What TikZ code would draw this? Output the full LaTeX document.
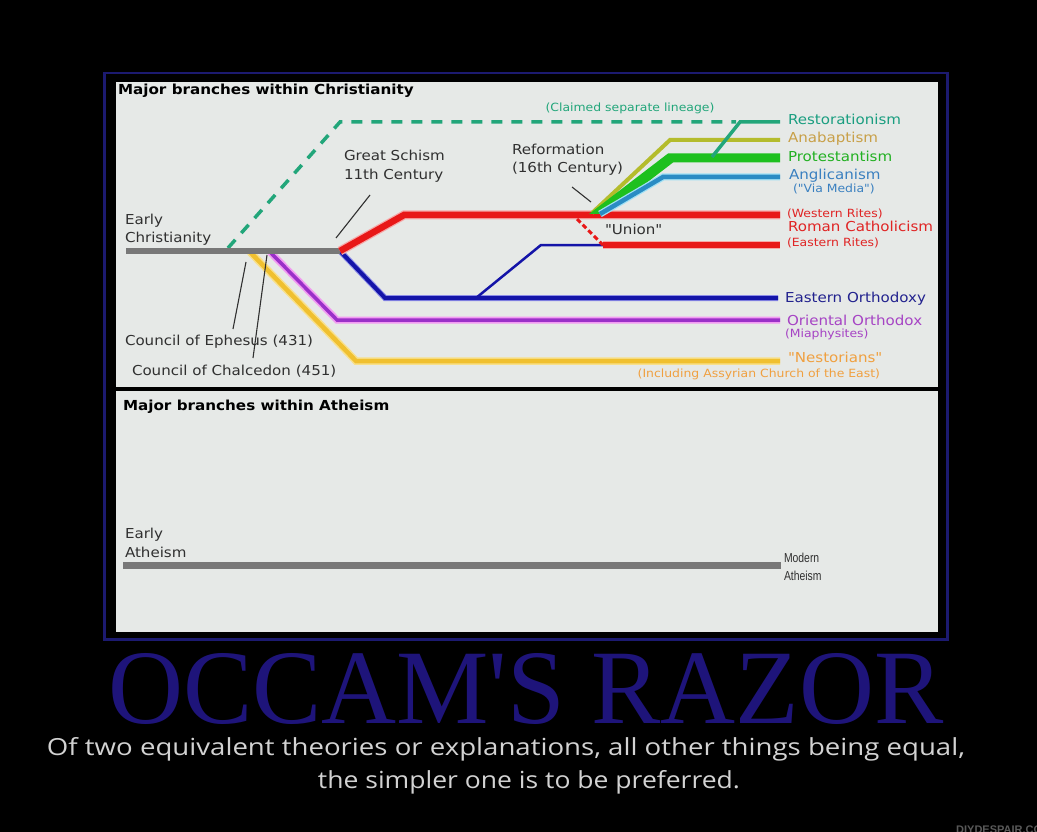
\documentclass[tikz,border=0pt]{standalone}
\usepackage{fontspec}
\usepackage{graphicx}
\newfontfamily\cf[FakeStretch=1.1,Ligatures=TeXOff]{DejaVu Sans}
\newfontfamily\occfont[Ligatures=TeXOff]{Liberation Serif}
\newfontfamily\capfont{Open Sans}
\newfontfamily\wmfont{Liberation Sans}
\newfontfamily\narrowf[FakeStretch=0.8]{Liberation Sans}
\definecolor{panelc}{HTML}{E6E9E7}
\definecolor{framec}{HTML}{1C1A70}
\definecolor{greyl}{HTML}{787878}
\definecolor{tealc}{HTML}{22A67A}
\definecolor{redc}{HTML}{E81818}
\definecolor{redl}{HTML}{F6A8A8}
\definecolor{bluec}{HTML}{1414A8}
\definecolor{bluel}{HTML}{8C8CE8}
\definecolor{purplec}{HTML}{9A30C8}
\definecolor{pinkc}{HTML}{F29AF2}
\definecolor{yellowc}{HTML}{F0C030}
\definecolor{yellowl}{HTML}{F8E08A}
\definecolor{olivec}{HTML}{B4BC2C}
\definecolor{greenc}{HTML}{1EC01E}
\definecolor{anglc}{HTML}{2A8CC4}
\definecolor{cyanl}{HTML}{A0E0F4}
\definecolor{textc}{HTML}{303030}
\definecolor{tRest}{HTML}{1A9E80}
\definecolor{tAna}{HTML}{C8A048}
\definecolor{tProt}{HTML}{22B022}
\definecolor{tAng}{HTML}{3A80C0}
\definecolor{tRed}{HTML}{E02424}
\definecolor{tEO}{HTML}{22228E}
\definecolor{tOO}{HTML}{A644C4}
\definecolor{tNes}{HTML}{F0A040}
\definecolor{occc}{HTML}{1E147A}
\definecolor{capc}{HTML}{D2D2D2}
\tikzset{
  lab/.style={anchor=base west, inner sep=0pt, outer sep=0pt, text=textc, font=\cf\fontsize{13.7}{16}\selectfont},
  slab/.style={lab, font=\cf\fontsize{11.3}{13}\selectfont},
  tlab/.style={lab, font=\cf\bfseries\fontsize{13.8}{16}\selectfont, text=black},
  leader/.style={draw=textc, line width=1.1pt},
  branch/.style={line cap=butt, line join=miter}
}
\begin{document}
\begin{tikzpicture}[x=1pt,y=-1pt]
\useasboundingbox (0,0) rectangle (1037,832);
\fill[black] (0,0) rectangle (1037,832);
\draw[framec, line width=2.5pt] (104.5,73) rectangle (947.5,639.5);
\fill[panelc] (116,82) rectangle (938,386.5);
\fill[panelc] (116,391) rectangle (938,632);

% coordinates
\coordinate (ec0) at (126,251);
\coordinate (gs) at (340,251);
\coordinate (d0) at (228,248);
\coordinate (d1) at (340,122);
\coordinate (d2) at (736,122);
\coordinate (r0) at (712,157);
\coordinate (r1) at (740,122);
\coordinate (r2) at (780,122);
\coordinate (w1) at (404,215);
\coordinate (w2) at (780,215);
\coordinate (e1) at (385,298);
\coordinate (e2) at (778,298);
\coordinate (u0) at (476,298);
\coordinate (u1) at (541,245);
\coordinate (u2) at (603,245);
\coordinate (er2) at (780,245);
\coordinate (un0) at (577,219);
\coordinate (rf) at (592,213);
\coordinate (an1) at (670,140);
\coordinate (an2) at (780,140);
\coordinate (ag0) at (600,214);
\coordinate (ag1) at (663,177);
\coordinate (ag2) at (780,177);
\coordinate (oo0) at (270,252);
\coordinate (oo1) at (337,320);
\coordinate (oo2) at (780,320);
\coordinate (ns0) at (250,252);
\coordinate (ns1) at (356,361);
\coordinate (ns2) at (780,361);

% lower branches
\draw[branch, yellowl, line width=7.5pt] (ns0) -- (ns1) -- (ns2);
\draw[branch, yellowc, line width=4.5pt] (ns0) -- (ns1) -- (ns2);
\draw[branch, pinkc, line width=7pt] (oo0) -- (oo1) -- (oo2);
\draw[branch, purplec, line width=3.5pt] (oo0) -- (oo1) -- (oo2);
% claimed separate lineage
\draw[tealc, line width=3.5pt, dash pattern=on 11pt off 9pt] (d0) -- (d1) -- (d2);
% eastern orthodoxy
\draw[branch, bluel, line width=6pt] (gs) -- (e1) -- (e2);
\draw[branch, bluec, line width=4pt] (gs) -- (e1) -- (e2);
\draw[branch, bluec, line width=2.5pt] (u0) -- (u1) -- (u2);
% early christianity
\draw[branch, greyl, line width=6pt] (ec0) -- (gs);
% roman catholicism
\draw[branch, redl, line width=9pt] (gs) -- (w1) -- (w2);
\draw[branch, redc, line width=6.5pt] (gs) -- (w1) -- (w2);
\draw[branch, redl, line width=8.5pt] (u2) -- (er2);
\draw[branch, redc, line width=6pt] (u2) -- (er2);
\draw[redc, line width=3pt, dash pattern=on 5pt off 3pt] (un0) -- (u2);
% reformation
\draw[branch, olivec, line width=4pt] (rf) -- (an1) -- (an2);
\fill[greenc] (589,214) -- (668,153.5) -- (780,153.5) -- (780,162.5) -- (673,162.5) -- (606,214) -- cycle;
\draw[branch, cyanl, line width=7pt] (ag0) -- (ag1) -- (ag2);
\draw[branch, anglc, line width=4.5pt] (ag0) -- (ag1) -- (ag2);
\draw[branch, tealc, line width=3.5pt] (r0) -- (r1) -- (r2);

% leaders
\coordinate (gsA) at (370,195);
\coordinate (gsB) at (336,238);
\coordinate (rfA) at (572,187);
\coordinate (rfB) at (591,202);
\coordinate (epA) at (246,262);
\coordinate (epB) at (233,329);
\coordinate (chA) at (267,255);
\coordinate (chB) at (253,358);
\draw[leader] (gsA) -- (gsB);
\draw[leader] (rfA) -- (rfB);
\draw[leader] (epA) -- (epB);
\draw[leader] (chA) -- (chB);

% titles and labels
\node[tlab] (t1) at (118,95) {Major branches within Christianity};
\node[lab] (lEarly) at (125,225) {Early};
\node[lab] (lChr) at (125,243) {Christianity};
\node[lab] (lGS1) at (344,161) {Great Schism};
\node[lab] (lGS2) at (344,179) {11th Century};
\node[lab] (lRef1) at (512,155) {Reformation};
\node[lab] (lRef2) at (512,173) {(16th Century)};
\node[slab, anchor=base, text=tealc] (lClaim) at (630,112) {(Claimed separate lineage)};
\node[lab] (lUnion) at (605,234) {"Union"};
\node[lab, text=tRest] (lRest) at (788,125) {Restorationism};
\node[lab, text=tAna] (lAna) at (788,143) {Anabaptism};
\node[lab, text=tProt] (lProt) at (788,162) {Protestantism};
\node[lab, text=tAng] (lAng) at (789,180) {Anglicanism};
\node[slab, text=tAng] (lVia) at (793,193) {("Via Media")};
\node[slab, text=tRed] (lWR) at (787,218) {(Western Rites)};
\node[lab, text=tRed] (lRC) at (788,232) {Roman Catholicism};
\node[slab, text=tRed] (lER) at (787,247) {(Eastern Rites)};
\node[lab, text=tEO] (lEO) at (785,302) {Eastern Orthodoxy};
\node[lab, text=tOO] (lOO) at (787,325) {Oriental Orthodox};
\node[slab, text=tOO] (lMia) at (785,337) {(Miaphysites)};
\node[lab, text=tNes] (lNes) at (788,362) {"Nestorians"};
\node[slab, anchor=base east, text=tNes] (lInc) at (880,377) {(Including Assyrian Church of the East)};
\node[lab] (lEph) at (125,345) {Council of Ephesus (431)};
\node[lab] (lChal) at (132,375) {Council of Chalcedon (451)};

% atheism panel
\coordinate (at0) at (123,565.5);
\coordinate (at1) at (781,565.5);
\node[tlab] (t2) at (123,410) {Major branches within Atheism};
\node[lab] (aEarly) at (125,538) {Early};
\node[lab] (aAth) at (125,557) {Atheism};
\draw[branch, greyl, line width=7pt] (at0) -- (at1);
\node[lab, font=\narrowf\fontsize{13}{15}\selectfont] (aMod) at (784,562) {Modern};
\node[lab, font=\narrowf\fontsize{13}{15}\selectfont] (aMod2) at (784,580) {Atheism};

% poster title and caption
\node[inner sep=0pt, outer sep=0pt, anchor=south west, text=occc] (occ) at (108,725)
  {\resizebox{835pt}{70pt}{\occfont OCCAM'S RAZOR}};
\node[inner sep=0pt, outer sep=0pt, anchor=base, text=capc] (cap1) at (506,755)
  {\resizebox{918pt}{18pt}{\capfont Of two equivalent theories or explanations, all other things being equal,}};
\node[inner sep=0pt, outer sep=0pt, anchor=base, text=capc] (cap2) at (529,788)
  {\resizebox{422pt}{18pt}{\capfont the simpler one is to be preferred.}};
\node[inner sep=0pt, anchor=base west, text=black!65, font=\wmfont\bfseries\fontsize{11}{11}\selectfont] (wm) at (956,833) {DIYDESPAIR.COM};
\end{tikzpicture}
\end{document}
